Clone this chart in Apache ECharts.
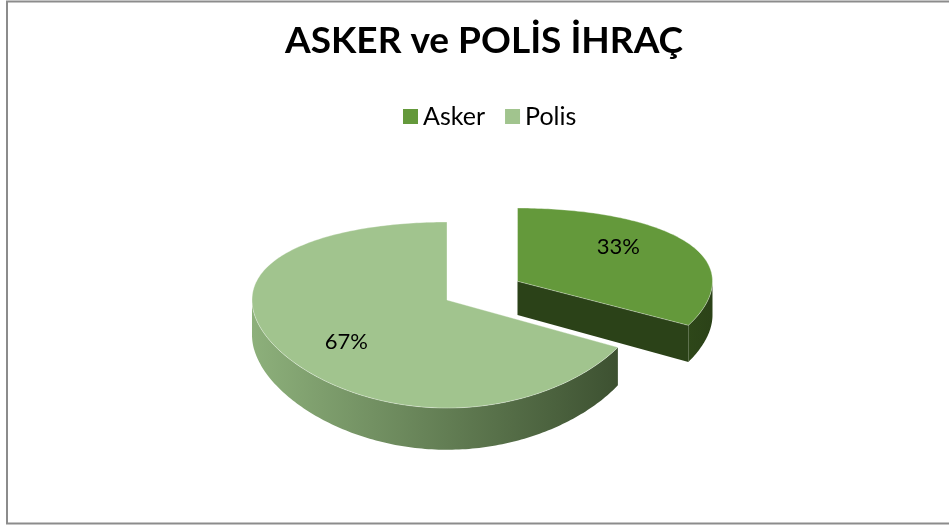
<!DOCTYPE html>
<html>
<head>
<meta charset="utf-8">
<script src="https://cdn.jsdelivr.net/npm/echarts@6/dist/echarts.min.js"></script>
<style>
html, body { margin: 0; padding: 0; background: #fff; }
#chart { width: 949px; height: 526px; }
</style>
</head>
<body>
<div id="chart"></div>
<script>
var myChart = echarts.init(document.getElementById('chart'));

/* veriler */
var categories = ['Asker', 'Polis'];
var values = [33, 67];

/* renkler */
var topColors = ['#64993b', '#a1c48e'];
var sideColors = [
    ['#2e4719', '#2b4218'],
    ['#8db07b', '#3d5131']
];

/* 3B pasta yerlesimi (basit perspektif, sadece dikeyde) */
var CX = 447, CY = 300, RX = 195, RY = 90.6, H = 35, D = 6.2;
var explode = [0.42, 0];
var FONT = 'Lato';

var total = values.reduce(function (a, b) { return a + b; }, 0);

// X: sag, Z: izleyiciye dogru, dz: asagi kalinlik
function P(X, Z, dz) {
    var s = D / (D - Z);
    return [CX + RX * X, CY + (RY * Z + dz) * s];
}

function arcPts(ox, oz, a0, a1, dz) {
    var pts = [];
    var n = Math.max(2, Math.ceil((a1 - a0) / (Math.PI / 180)));
    for (var k = 0; k <= n; k++) {
        var t = a0 + (a1 - a0) * k / n;
        pts.push(P(ox + Math.sin(t), oz - Math.cos(t), dz));
    }
    return pts;
}

function sliceRender(i) {
    return function (params, api) {
        var before = 0;
        for (var j = 0; j < i; j++) before += values[j];
        var start = before / total * Math.PI * 2;
        var end = (before + values[i]) / total * Math.PI * 2;
        var mid = (start + end) / 2;
        var ox = explode[i] * Math.sin(mid);
        var oz = -explode[i] * Math.cos(mid);
        var children = [];
        var sideFill = new echarts.graphic.LinearGradient(0, 0, 1, 0, [
            { offset: 0, color: sideColors[i][0] },
            { offset: 1, color: sideColors[i][1] }
        ]);

        // kesit yuzu (bitis acisi)
        if (Math.sin(end) > 0.01) {
            var ex = ox + Math.sin(end), ez = oz - Math.cos(end);
            children.push({
                type: 'polygon',
                shape: { points: [P(ox, oz, 0), P(ex, ez, 0), P(ex, ez, H), P(ox, oz, H)] },
                style: { fill: sideColors[i][1] }
            });
        }
        // kesit yuzu (baslangic acisi)
        if (Math.sin(start) < -0.01) {
            var sx = ox + Math.sin(start), sz = oz - Math.cos(start);
            children.push({
                type: 'polygon',
                shape: { points: [P(ox, oz, 0), P(sx, sz, 0), P(sx, sz, H), P(ox, oz, H)] },
                style: { fill: sideColors[i][0] }
            });
        }
        // dis duvar (on yari)
        var w0 = Math.max(start, Math.PI / 2), w1 = Math.min(end, Math.PI * 1.5);
        if (w1 > w0) {
            var topArc = arcPts(ox, oz, w0, w1, 0);
            var botArc = arcPts(ox, oz, w0, w1, H).reverse();
            children.push({
                type: 'polygon',
                shape: { points: topArc.concat(botArc) },
                style: { fill: sideFill }
            });
        }
        // ust yuzey
        children.push({
            type: 'polygon',
            shape: { points: [P(ox, oz, 0)].concat(arcPts(ox, oz, start, end, 0)) },
            style: { fill: topColors[i], stroke: 'rgba(255,255,255,0.35)', lineWidth: 1 }
        });
        // etiket
        var lp = P(ox + 0.6 * Math.sin(mid), oz - 0.85 * Math.cos(mid), 0);
        children.push({
            type: 'text',
            style: {
                text: Math.round(values[i] / total * 100) + '%',
                x: lp[0],
                y: lp[1],
                align: 'center',
                verticalAlign: 'middle',
                fontSize: 22,
                fontFamily: FONT,
                fill: '#000'
            }
        });
        return { type: 'group', children: children };
    };
}

var series = categories.map(function (name, i) {
    return {
        name: name,
        type: 'custom',
        coordinateSystem: 'none',
        z: 2 + i,
        itemStyle: { color: topColors[i] },
        data: [values[i]],
        renderItem: sliceRender(i)
    };
});

var option = {
    animation: false,
    title: {
        text: 'ASKER ve POLİS İHRAÇ',
        left: 280,
        top: 18,
        textStyle: { fontSize: 37, fontWeight: 'bold', fontFamily: FONT, color: '#000' }
    },
    legend: {
        data: categories,
        top: 99,
        left: 398,
        icon: 'rect',
        itemWidth: 15,
        itemHeight: 15,
        itemGap: 20,
        textStyle: { fontSize: 25, fontFamily: FONT, color: '#000' }
    },
    graphic: [{
        type: 'rect',
        shape: { x: 7, y: 1.5, width: 960, height: 522 },
        style: { fill: 'none', stroke: '#8c8c8c', lineWidth: 2 },
        silent: true
    }],
    series: series
};
myChart.setOption(option);
</script>
</body>
</html>
